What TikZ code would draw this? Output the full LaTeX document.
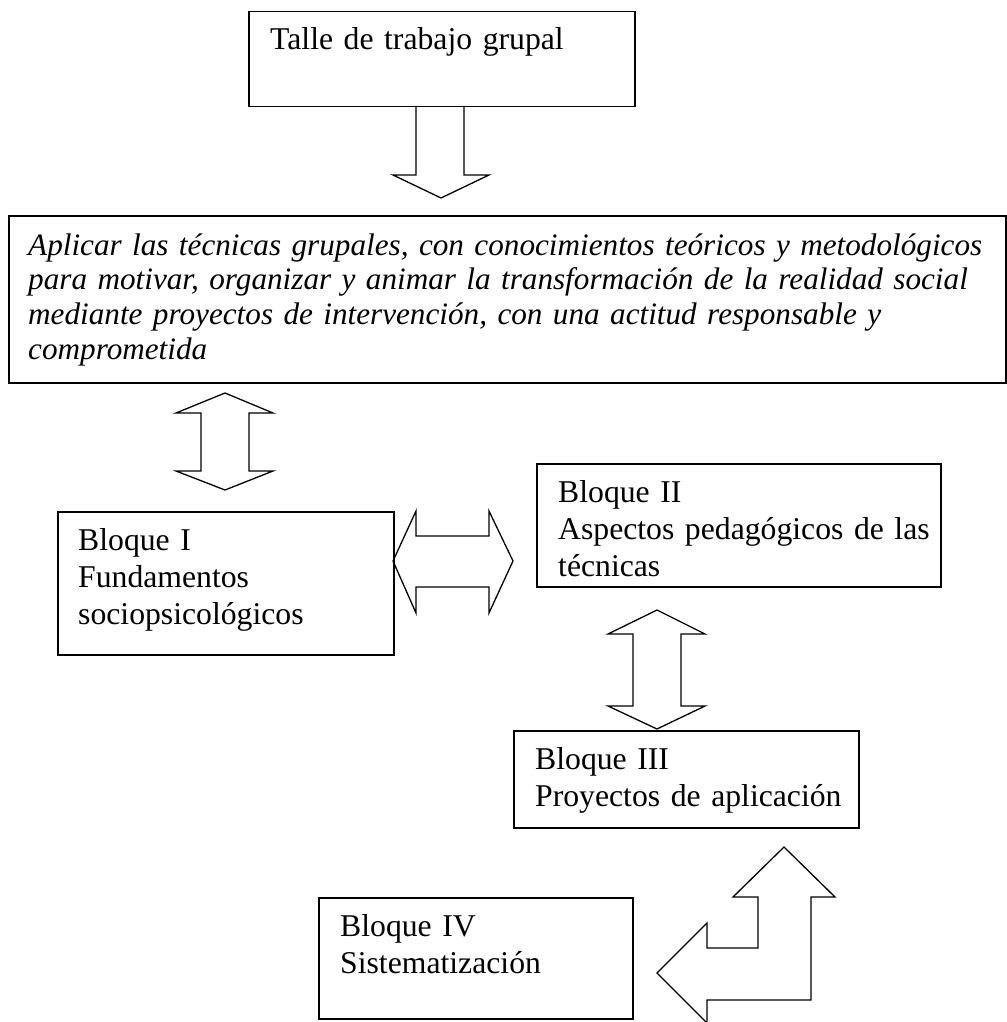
\documentclass[tikz,border=0pt]{standalone}
\usepackage{fontspec}
\setmainfont{Liberation Serif}
\begin{document}
\begin{tikzpicture}[x=1pt,y=-1pt,
  box/.style={draw,line width=1.5pt,inner sep=0,anchor=north west},
  lbl/.style={inner sep=0,anchor=base west,text width=#1,align=left,font=\fontsize{31.7}{37}\selectfont},
  ilbl/.style={inner sep=0,anchor=base west,text width=#1,align=left,font=\fontsize{31.2}{34.8}\selectfont\itshape},
  barrow/.style={draw,line width=1.3pt,line join=miter}]
\useasboundingbox (0,0) rectangle (1006,1022);
% boxes
\node[box,minimum width=386pt,minimum height=95pt] (top) at (248,11) {};
\node[box,minimum width=997pt,minimum height=167pt] (goal) at (8,215) {};
\node[box,minimum width=336pt,minimum height=143pt] (b1) at (57,511) {};
\node[box,minimum width=404pt,minimum height=123pt] (b2) at (536,463) {};
\node[box,minimum width=345pt,minimum height=97pt] (b3) at (513,730) {};
\node[box,minimum width=314pt,minimum height=121pt] (b4) at (318,897) {};
% texts
\node[lbl=350pt] (ttop) at (270,50) {Talle de trabajo grupal};
\node[ilbl=990pt] (tgoal) at (28,255) {Aplicar las técnicas grupales, con conocimientos teóricos y metodológicos\\
para motivar, organizar y animar la transformación de la realidad social\\
mediante proyectos de intervención, con una actitud responsable y\\
comprometida};
\node[lbl=310pt] (tb1) at (78,550) {Bloque I\\Fundamentos\\sociopsicológicos};
\node[lbl=400pt] (tb2) at (558,502) {Bloque II\\Aspectos pedagógicos de las\\técnicas};
\node[lbl=330pt] (tb3) at (535,769) {Bloque III\\Proyectos de aplicación};
\node[lbl=290pt] (tb4) at (340,936) {Bloque IV\\Sistematización};
% block arrows
\draw[barrow] (416,106) -- (416,175) -- (393,175) -- (441,198) -- (489,175) -- (464,175) -- (464,106);
\draw[barrow] (225,393) -- (273,413) -- (249,413) -- (249,471) -- (273,471) -- (225,490) -- (176,471) -- (201,471) -- (201,413) -- (176,413) -- cycle;
\draw[barrow] (393,561) -- (416,511) -- (416,536) -- (489,536) -- (489,511) -- (513,561) -- (489,613) -- (489,587) -- (416,587) -- (416,613) -- cycle;
\draw[barrow] (657,610) -- (705,634) -- (681,634) -- (681,706) -- (705,706) -- (657,729) -- (608,706) -- (633,706) -- (633,634) -- (608,634) -- cycle;
\draw[barrow] (784,847) -- (835,897) -- (811,897) -- (811,1000) -- (707,1000) -- (707,1023) -- (657,973) -- (707,923) -- (707,948) -- (758,948) -- (758,897) -- (733,897) -- cycle;
\end{tikzpicture}
\end{document}
